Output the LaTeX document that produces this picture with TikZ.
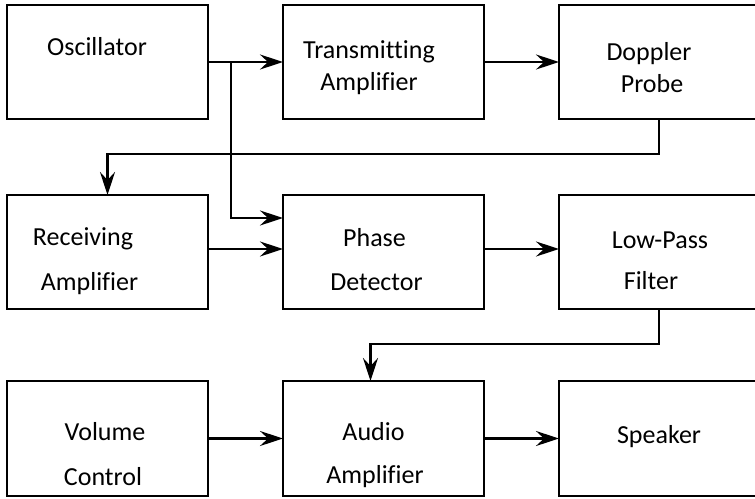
\documentclass[tikz,border=0pt]{standalone}
\usepackage{fontspec}
\setmainfont{Carlito}[Ligatures=NoCommon]
\usetikzlibrary{arrows.meta}
\tikzset{
  box/.style={draw, line width=2.6pt, rectangle, inner sep=0pt, outer sep=0pt,
    minimum width=201pt, minimum height=114pt, anchor=north west},
  widebox/.style={box, minimum width=240pt},
  lbl/.style={anchor=base, inner sep=0pt, font=\fontsize{26}{31}\selectfont},
  arr/.style={line width=2.6pt, -{Stealth[length=23pt,width=15pt,inset=8pt]}},
  ln/.style={line width=2.6pt}
}
\begin{document}
\begin{tikzpicture}[x=1pt,y=-1pt]
\useasboundingbox (0,0) rectangle (755,498);
\clip (0,0) rectangle (755,498);
% boxes
\node[box] (osc) at (7,5) {};
\node[box] (trn) at (283,5) {};
\node[widebox] (dop) at (559,5) {};
\node[box] (rcv) at (7,195) {};
\node[box] (phs) at (283,195) {};
\node[widebox] (lpf) at (559,195) {};
\node[box, minimum height=115pt] (vol) at (7,381) {};
\node[box, minimum height=115pt] (aud) at (283,381) {};
\node[widebox, minimum height=115pt] (spk) at (559,381) {};
% labels
\node[lbl] (t1) at (97,55) {Oscillator};
\node[lbl] (t2) at (369,58) {Transmitting};
\node[lbl] (t3) at (369,90) {Amplifier};
\node[lbl] (t4) at (649,60) {Doppler};
\node[lbl] (t5) at (652,92) {Probe};
\node[lbl] (t6) at (83,245) {Receiving};
\node[lbl] (t7) at (89.5,290) {Amplifier};
\node[lbl] (t8) at (374.5,246) {Phase};
\node[lbl] (t9) at (376.5,290) {Detector};
\node[lbl] (t10) at (660,248) {Low-Pass};
\node[lbl] (t11) at (651,289) {Filter};
\node[lbl] (t12) at (105,440) {Volume};
\node[lbl] (t13) at (103,485) {Control};
\node[lbl] (t14) at (373.5,440) {Audio};
\node[lbl] (t15) at (375,483) {Amplifier};
\node[lbl] (t16) at (659,443) {Speaker};
% connectors
\coordinate (br) at (231,62);
\coordinate (brd) at (231,218);
\draw[arr] (osc.east) -- (trn.west);
\draw[arr] (br) -- (brd) -- (phs.west |- brd);
\draw[arr] (trn.east) -- (dop.west);
\draw[arr] ([xshift=100pt]dop.south west) -- ++(0,35) -| (rcv.north);
\draw[arr] ([yshift=3pt]rcv.east) -- ([yshift=3pt]phs.west);
\draw[arr] ([yshift=3pt]phs.east) -- ([yshift=3pt]lpf.west);
\draw[arr] ([xshift=100pt]lpf.south west) -- ++(0,35) -| ([xshift=-13pt]aud.north);
\draw[arr] (vol.east) -- (aud.west);
\draw[arr] (aud.east) -- (spk.west);
\end{tikzpicture}
\end{document}
